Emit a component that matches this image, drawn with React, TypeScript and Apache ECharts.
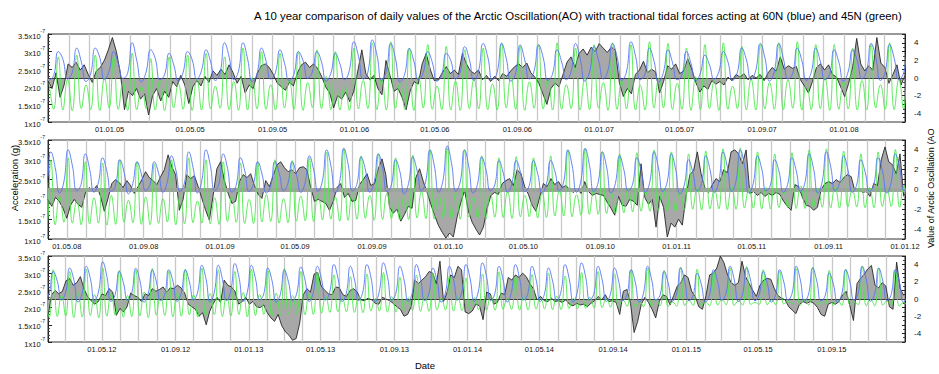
import React, { useEffect, useRef } from 'react';
import * as echarts from 'echarts';

const DAY_MS = 86400000;
const FONT = "'Liberation Sans', Arial, Helvetica, sans-serif";

const TITLE = 'A 10 year comparison of daily values of the Arctic Oscillation(AO) with tractional tidal forces acting at 60N (blue) and 45N (green)';
const LEFT_NAME = 'Acceleration (g)';
const RIGHT_NAME = 'Value of Arctic Oscillation (AO';
const X_NAME = 'Date';

// three panels (UTC dates)
const PANEL_START = ['2004-10-01', '2008-04-01', '2012-02-01'];
const PANEL_END = ['2008-04-01', '2012-01-01', '2016-01-01'];
const PANEL_TICKS = [
  ['2005-01-01', '2005-05-01', '2005-09-01', '2006-01-01', '2006-05-01', '2006-09-01', '2007-01-01', '2007-05-01', '2007-09-01', '2008-01-01'],
  ['2008-05-01', '2008-09-01', '2009-01-01', '2009-05-01', '2009-09-01', '2010-01-01', '2010-05-01', '2010-09-01', '2011-01-01', '2011-05-01', '2011-09-01', '2012-01-01'],
  ['2012-05-01', '2012-09-01', '2013-01-01', '2013-05-01', '2013-09-01', '2014-01-01', '2014-05-01', '2014-09-01', '2015-01-01', '2015-05-01', '2015-09-01'],
];

// Arctic Oscillation index, one value every 6 days from each panel start
const AO_STEP_DAYS = 6;
const AO_P1 = [
  -0.3, -1.2, 0.6, -2.2, -0.8, 1.6, 1.2, 1.8, 0.9, 1.5,
  0.4, -0.5, 0.8, 1.2, 2.0, 3.2, 4.6, 3.0, 0.5, -3.6,
  -1.5, -2.0, -1.2, -2.4, -1.8, -4.2, -2.0, -1.2, -2.6, -1.5,
  -2.2, -0.4, -1.0, 0.3, -0.8, -2.9, -1.0, -0.3, -0.9, 0.2,
  -0.5, 0.8, 0.3, 1.0, 0.4, 1.5, 0.6, -0.6, 0.2, -1.7,
  -0.8, -1.2, 0.5, 1.4, 1.6, 1.2, 0.4, -0.6, -1.0, -1.4,
  -0.5, -0.9, 0.6, 1.5, 1.8, 1.2, 1.6, 1.1, 0.2, -1.0,
  -1.7, -3.4, -2.0, -2.4, -1.6, -2.7, -1.5, 0.8, 3.2, 0.5,
  -0.2, 0.3, -1.2, -1.9, 2.0, 0.3, -1.5, -1.2, -2.2, -3.6,
  -1.5, -0.4, -0.7, 1.6, 2.8, 1.0, -0.3, -0.2, 0.6, 1.3,
  0.5, 0.9, 0.4, 2.8, 1.6, 0.8, 0.5, 0.9, -0.2, 0.3,
  -0.4, 0.2, -0.3, 0.5, 0.2, 0.8, 1.3, 1.6, 1.2, 1.7,
  0.6, 0.1, -0.6, -1.8, -3.0, -1.2, -0.6, -1.0, 0.4, 1.8,
  2.4, 1.2, 2.8, 3.3, 2.6, 3.5, 3.0, 3.9, 3.4, 2.9,
  3.5, 3.2, -0.5, -2.1, -1.2, -1.8, 0.4, 0.9, 1.9, 0.6,
  1.0, 0.7, -1.7, -0.4, 1.4, 1.0, 1.6, 0.5, 0.8, 2.2,
  1.0, -0.5, -1.6, -0.9, -1.3, -0.3, -0.7, -0.4, -0.8, 0.1,
  -0.3, 0.4, 0.1, 0.5, -0.2, 0.3, 0.0, 0.4, -0.3, 0.6,
  1.2, 0.8, 2.4, 1.0, 1.4, 1.1, 1.3, -0.2, -0.9, -1.7,
  -0.4, 1.2, 1.6, 0.9, 1.5, 0.4, 0.1, -1.0, -2.1, -0.6,
  1.3, 4.5, 1.6, 0.8, 1.4, 0.9, 4.6, 1.7, 1.2, -0.6,
  0.4, 1.5, -0.8, 0.3,
];
const AO_P2 = [
  -1.0, -1.7, -0.8, -1.2, -1.9, -2.9, -1.6, -1.0, -1.5, -1.8,
  -0.3, 0.2, -0.1, 0.4, -0.7, -2.2, -0.9, 0.6, 1.0, 0.7,
  0.2, 0.9, 0.4, -0.4, 0.3, 1.0, 1.8, 1.2, 0.9, 0.5,
  1.3, 2.0, 3.5, 2.3, 1.5, -2.1, -1.0, 1.5, 1.1, 1.4,
  0.3, -0.9, -2.1, -3.1, -0.6, 2.1, 2.8, 0.9, -0.4, -1.4,
  -1.2, 0.8, 1.5, 1.2, 1.6, 0.4, -0.5, -0.9, 0.9, 0.3,
  1.4, 2.5, 2.8, 2.2, 1.8, 2.0, 1.6, 2.2, 2.3, 2.0,
  0.2, -1.2, -1.0, -1.2, -1.4, -2.1, -1.2, 0.2, 0.6, -0.8,
  -0.4, -1.2, -1.1, 0.5, 1.0, 1.6, 0.4, 0.6, 2.1, 3.1,
  1.5, -1.8, -2.4, -2.0, -3.2, -2.5, -1.7, -1.9, 1.2, 2.1,
  0.8, -0.3, -1.5, -2.6, -3.6, -4.3, -4.9, -4.4, -4.8, -2.8,
  -1.3, -0.1, -2.2, -3.3, -4.0, -4.6, -3.8, -1.9, -0.6, -0.3,
  -0.5, 0.6, 0.9, 1.1, 0.4, 2.0, 1.6, 0.3, -0.5, -1.6,
  -2.2, -0.8, 0.6, 0.3, 1.1, 0.5, 0.8, 0.2, 0.4, 0.0,
  -0.3, 0.1, -0.4, 0.8, -0.2, -0.6, -0.4, -0.5, -0.6, -1.3,
  -1.9, -2.6, -0.7, -1.6, -1.7, -1.0, -1.2, -1.6, 2.6, -0.8,
  -1.5, -1.0, -3.8, -0.7, -1.8, -4.8, -3.4, -3.8, -3.0, -3.6,
  -0.7, 1.5, 1.9, 3.8, 1.6, 0.2, -0.3, 0.5, 1.1, 0.8,
  2.0, 1.7, 3.8, 4.0, 3.6, 2.6, 4.0, -0.4, -0.2, -0.6,
  -0.3, -0.7, -0.4, -0.6, -0.3, -0.5, -1.2, -1.7, -2.1, 0.5,
  0.3, -0.8, -1.6, -1.7, -2.1, -1.8, 0.0, 0.6, 0.8, 0.6,
  1.0, 0.7, 1.2, 1.5, 1.3, -0.2, 0.1, -0.3, -0.2, -0.7,
  0.6, 0.4, 3.0, 4.3, 2.8, 2.5, 1.6, 3.6, -0.7,
];
const AO_P3 = [
  -2.0, 0.5, 1.0, 0.6, 0.9, 2.1, 2.4, 1.6, 1.9, 2.6,
  1.2, 0.3, -0.2, -0.6, -0.3, 0.6, 0.4, 1.2, 0.8, -1.9,
  -1.1, -1.5, -0.9, 0.7, 0.4, 0.2, -0.3, 0.6, 0.4, 1.2,
  0.9, 1.1, 1.4, 0.8, 1.3, 1.2, 1.6, 1.3, 0.7, -0.6,
  -0.9, -1.2, -2.0, -1.6, -3.0, -1.4, -0.5, 0.2, -0.4, 2.2,
  1.6, 1.4, 0.9, -0.6, -0.3, 0.2, -0.6, -0.3, -0.9, -1.0,
  -0.7, -1.6, -2.2, -2.6, -1.8, -3.1, -3.8, -4.2, -4.8, -4.6,
  -2.8, 0.5, 1.2, 0.8, 2.9, 3.1, 1.5, 1.0, 0.6, 0.5,
  1.4, 1.3, 0.5, 0.3, 1.0, 1.2, 0.8, -0.1, -0.2, 0.1,
  -0.1, -0.5, -0.6, 0.2, 0.0, -0.2, -0.5, -0.9, -1.2, -2.0,
  -1.8, -0.9, 2.2, 1.8, 2.2, 2.6, 3.2, 3.0, 1.8, 4.4,
  -0.3, 0.8, 2.8, 2.5, 3.8, 3.4, -1.5, -1.7, -1.4, -0.6,
  -0.8, -2.4, 0.8, 0.6, -0.6, -0.4, 0.7, 0.5, 2.5, 2.2,
  2.8, 2.5, 3.0, 2.6, 1.8, 1.2, -0.1, 0.3, -0.2, -0.3,
  0.1, -0.3, -0.2, -0.4, -0.1, -0.6, -0.8, -0.5, -0.7, -0.6,
  -0.9, -0.5, -0.2, 0.3, -0.1, 0.5, -0.3, -0.2, -0.4, -1.8,
  0.9, 1.1, -0.5, -3.9, -2.6, -0.6, 0.2, -0.4, -1.2, -2.2,
  -0.3, 0.5, 0.3, -0.7, 0.4, 1.5, 1.9, 2.8, 2.5, 0.9,
  0.3, -0.9, -1.2, 0.4, 2.8, 3.0, 3.6, 5.0, 4.2, 2.8,
  1.9, 1.6, 1.9, 4.4, 2.6, 1.8, 1.0, 0.3, 1.6, 2.2,
  2.4, 2.3, 1.2, 0.4, 0.1, -0.1, -0.9, -1.3, -1.7, -0.6,
  -0.3, -0.5, -0.3, -0.5, -1.0, -1.8, -2.0, -0.6, -0.4, -0.6,
  -0.3, 0.5, 0.9, -0.8, -2.5, 1.8, 2.4, 2.9, 3.5, 3.9,
  1.6, 1.3, 1.9, 1.5, -0.9, -1.2, 4.3, 1.2, 0.4,
];

// tidal acceleration (x1e-7 g), four readings per lunar cycle
const TIDE_STEP_DAYS = 6.8875;
const TIDE_OFFSET_DAYS = [1.6, -9.1, -5.0];
const TIDE60_P1 = [
  2.18,2.32,3.00,2.78, 2.22,2.40,3.10,2.70, 2.15,2.36,3.10,2.82, 2.20,2.45,3.00,2.66, 2.24,2.38,3.25,2.74,
  2.14,2.42,3.05,2.80, 2.20,2.34,2.95,2.62, 2.16,2.40,3.00,2.76, 2.22,2.46,3.05,2.70, 2.18,2.38,3.25,2.84,
  2.20,2.44,3.25,2.78, 2.15,2.36,3.10,2.72, 2.22,2.40,3.05,2.66, 2.18,2.35,3.00,2.74, 2.24,2.42,3.00,2.70,
  2.16,2.38,2.95,2.64, 2.20,2.46,3.28,2.86, 2.22,2.40,3.33,2.90, 2.18,2.44,3.23,2.80, 2.14,2.36,3.09,2.72,
  2.20,2.40,3.00,2.68, 2.16,2.34,2.95,2.74, 2.22,2.42,3.14,2.78, 2.18,2.46,3.23,2.84, 2.20,2.40,3.23,2.80,
  2.16,2.38,3.19,2.76, 2.22,2.44,3.19,2.82, 2.18,2.36,3.05,2.70, 2.20,2.42,3.23,2.80, 2.16,2.40,3.14,2.74,
  2.22,2.46,3.23,2.84, 2.18,2.42,3.28,2.86, 2.20,2.36,3.10,2.72, 2.14,2.40,3.05,2.68, 2.20,2.34,3.00,2.66,
  2.16,2.38,2.90,2.62, 2.22,2.42,3.00,2.70, 2.18,2.40,3.10,2.76, 2.20,2.46,3.23,2.82, 2.16,2.42,3.23,2.80,
  2.22,2.38,3.10,2.74, 2.18,2.40,3.10,2.72, 2.20,2.36,3.05,2.70, 2.16,2.42,3.05,2.74, 2.22,2.46,3.23,2.84,
  2.18,2.40,3.20,2.80, 2.20,2.38,3.00,2.72,
];
const TIDE45_P1 = [
  2.10,1.36,2.85,1.34, 2.20,1.32,2.90,1.38, 2.05,1.35,2.90,1.33, 2.25,1.40,2.85,1.36, 2.12,1.33,2.95,1.35,
  2.00,1.38,2.80,1.34, 2.18,1.32,2.85,1.40, 2.08,1.36,2.90,1.33, 2.22,1.34,2.95,1.37, 2.02,1.39,2.85,1.35,
  2.15,1.33,3.10,1.34, 2.26,1.37,3.00,1.36, 2.06,1.34,2.95,1.40, 2.20,1.36,3.00,1.33, 2.12,1.41,3.05,1.38,
  2.30,1.35,3.00,1.34, 2.04,1.33,3.10,1.37, 2.18,1.38,3.25,1.35, 2.24,1.34,3.28,1.39, 2.10,1.36,3.10,1.33,
  2.28,1.40,3.20,1.36, 2.02,1.35,3.15,1.34, 2.16,1.33,3.05,1.38, 2.22,1.37,3.10,1.35, 2.08,1.34,3.25,1.40,
  2.30,1.36,3.15,1.33, 2.14,1.39,3.20,1.37, 2.20,1.34,3.25,1.36, 2.06,1.38,3.10,1.34, 2.26,1.35,3.20,1.39,
  2.12,1.33,3.25,1.36, 2.18,1.37,3.20,1.34, 2.04,1.34,3.28,1.40, 2.24,1.40,3.23,1.35, 2.10,1.36,3.10,1.33,
  2.28,1.35,3.20,1.38, 2.16,1.33,3.25,1.36, 2.02,1.38,3.15,1.34, 2.22,1.34,3.20,1.37, 2.12,1.36,3.25,1.35,
  2.20,1.39,3.28,1.34, 2.08,1.35,3.20,1.38, 2.26,1.33,3.20,1.36, 2.14,1.37,3.10,1.34, 2.18,1.34,3.20,1.40,
  2.06,1.36,3.25,1.35, 2.22,1.38,3.10,1.36,
];
const TIDE60_P2 = [
  2.20,2.40,3.20,2.80, 2.16,2.44,3.25,2.84, 2.22,2.38,3.15,2.76, 2.18,2.42,3.05,2.70, 2.20,2.36,3.00,2.68,
  2.14,2.40,2.95,2.64, 2.22,2.38,2.95,2.66, 2.18,2.44,3.10,2.74, 2.20,2.42,3.20,2.80, 2.16,2.46,3.25,2.86,
  2.22,2.40,3.15,2.78, 2.18,2.36,3.05,2.72, 2.20,2.38,2.95,2.64, 2.16,2.34,2.95,2.66, 2.22,2.40,2.95,2.62,
  2.18,2.42,3.10,2.74, 2.20,2.46,3.25,2.84, 2.16,2.44,3.29,2.88, 2.22,2.38,3.07,2.74, 2.18,2.42,3.15,2.78,
  2.20,2.36,3.00,2.70, 2.14,2.40,3.07,2.72, 2.22,2.46,3.25,2.84, 2.18,2.48,3.35,2.90, 2.20,2.44,3.25,2.82,
  2.16,2.38,3.07,2.74, 2.22,2.36,2.98,2.66, 2.18,2.40,2.98,2.68, 2.20,2.34,2.98,2.64, 2.16,2.38,2.98,2.70,
  2.22,2.44,3.25,2.84, 2.18,2.46,3.29,2.86, 2.20,2.42,3.20,2.80, 2.16,2.40,3.10,2.74, 2.22,2.38,3.05,2.72,
  2.18,2.44,3.20,2.80, 2.20,2.42,3.15,2.76, 2.14,2.36,3.00,2.68, 2.22,2.40,3.10,2.74, 2.18,2.44,3.20,2.82,
  2.20,2.46,3.25,2.84, 2.16,2.40,3.10,2.76, 2.22,2.36,3.00,2.70, 2.18,2.38,3.05,2.72, 2.20,2.42,3.15,2.78,
  2.16,2.44,3.20,2.82, 2.22,2.40,3.10,2.74, 2.18,2.36,3.00,2.68, 2.20,2.38,3.05,2.72, 2.16,2.42,3.15,2.78,
  2.22,2.44,3.20,2.80,
];
const TIDE45_P2 = [
  2.00,1.38,3.00,1.36, 2.08,1.42,3.05,1.40, 1.96,1.36,2.95,1.38, 2.04,1.40,2.92,1.35, 2.10,1.37,3.00,1.42,
  1.98,1.41,2.95,1.37, 2.06,1.36,2.90,1.39, 2.02,1.43,3.00,1.36, 2.10,1.38,3.05,1.41, 1.96,1.40,3.00,1.38,
  2.04,1.37,2.95,1.44, 2.08,1.42,2.92,1.39, 2.00,1.39,2.95,1.43, 2.12,1.44,3.00,1.40, 2.02,1.41,2.98,1.45,
  2.08,1.46,3.05,1.44, 2.14,1.48,3.20,1.50, 2.06,1.45,3.28,1.47, 2.18,1.50,3.10,1.52, 2.10,1.47,3.15,1.49,
  2.16,1.52,3.05,1.48, 2.08,1.49,3.12,1.53, 2.20,1.51,3.25,1.50, 2.12,1.54,3.30,1.52, 2.18,1.50,3.25,1.55,
  2.06,1.53,3.10,1.51, 2.14,1.55,3.05,1.54, 2.20,1.52,3.08,1.56, 2.10,1.56,3.05,1.53, 2.16,1.54,3.10,1.58,
  2.22,1.58,3.25,1.56, 2.12,1.60,3.28,1.62, 2.24,1.62,3.20,1.64, 2.18,1.65,3.15,1.66, 2.26,1.68,3.18,1.70,
  2.22,1.70,3.25,1.72, 2.28,1.72,3.20,1.70, 2.20,1.74,3.15,1.75, 2.30,1.73,3.22,1.76, 2.24,1.76,3.28,1.74,
  2.32,1.75,3.30,1.78, 2.26,1.78,3.20,1.76, 2.30,1.76,3.15,1.79, 2.22,1.79,3.18,1.77, 2.34,1.77,3.25,1.80,
  2.28,1.80,3.28,1.78, 2.32,1.78,3.22,1.81, 2.24,1.81,3.15,1.79, 2.30,1.79,3.20,1.82, 2.26,1.82,3.26,1.80,
  2.34,1.80,3.30,1.83,
];
const TIDE60_P3 = [
  2.18,2.40,3.05,2.76, 2.22,2.44,3.15,2.80, 2.16,2.42,3.20,2.84, 2.20,2.48,3.33,2.90, 2.18,2.38,3.05,2.72,
  2.22,2.42,3.14,2.78, 2.16,2.40,3.09,2.74, 2.20,2.38,3.10,2.76, 2.18,2.42,3.09,2.74, 2.22,2.46,3.23,2.84,
  2.16,2.44,3.23,2.82, 2.20,2.48,3.28,2.88, 2.18,2.44,3.23,2.84, 2.22,2.40,3.15,2.78, 2.16,2.38,3.09,2.74,
  2.20,2.42,3.18,2.80, 2.18,2.44,3.20,2.82, 2.22,2.46,3.25,2.84, 2.18,2.42,3.20,2.80, 2.20,2.46,3.25,2.86,
  2.16,2.48,3.30,2.88, 2.22,2.42,3.20,2.80, 2.18,2.44,3.25,2.84, 2.20,2.40,3.15,2.76, 2.16,2.42,3.20,2.80,
  2.22,2.46,3.25,2.84, 2.18,2.48,3.30,2.88, 2.20,2.42,3.20,2.80, 2.16,2.44,3.25,2.84, 2.22,2.42,3.20,2.80,
  2.18,2.40,3.15,2.76, 2.20,2.46,3.25,2.84, 2.16,2.48,3.30,2.88, 2.22,2.42,3.20,2.80, 2.18,2.40,3.15,2.76,
  2.20,2.38,3.10,2.74, 2.16,2.42,3.20,2.80, 2.22,2.36,3.05,2.70, 2.18,2.40,3.15,2.76, 2.20,2.34,3.00,2.68,
  2.16,2.38,3.10,2.74, 2.22,2.42,3.20,2.80, 2.18,2.40,3.15,2.76, 2.20,2.36,3.05,2.70, 2.16,2.38,3.10,2.74,
  2.22,2.42,3.20,2.80, 2.18,2.40,3.15,2.76, 2.20,2.34,3.00,2.68, 2.16,2.38,3.10,2.74, 2.22,2.42,3.20,2.80,
  2.18,2.40,3.15,2.76, 2.20,2.38,3.10,2.74, 2.16,2.36,3.05,2.70,
];
const TIDE45_P3 = [
  2.40,1.72,3.10,1.74, 2.36,1.76,3.05,1.71, 2.44,1.73,3.12,1.77, 2.38,1.70,3.15,1.75, 2.42,1.78,3.08,1.72,
  2.35,1.74,3.10,1.76, 2.45,1.71,3.14,1.78, 2.39,1.77,3.06,1.73, 2.43,1.75,3.12,1.79, 2.37,1.72,3.15,1.76,
  2.41,1.79,3.10,1.74, 2.36,1.76,3.05,1.80, 2.44,1.73,3.12,1.77, 2.38,1.80,3.08,1.75, 2.42,1.77,3.14,1.81,
  2.35,1.82,3.05,1.79, 2.40,1.80,3.02,1.84, 2.32,1.86,2.95,1.88, 2.28,1.88,2.90,1.86, 2.34,1.85,2.98,1.90,
  2.26,1.90,3.02,1.87, 2.32,1.87,2.88,1.91, 2.28,1.92,2.95,1.89, 2.35,1.89,3.00,1.93, 2.27,1.93,2.92,1.90,
  2.33,1.91,2.86,1.94, 2.29,1.94,2.98,1.92, 2.34,1.92,3.04,1.95, 2.26,1.95,2.90,1.93, 2.31,1.93,2.96,1.96,
  2.28,1.96,3.00,1.94, 2.33,1.94,2.92,1.97, 2.27,1.97,3.02,1.98, 2.30,1.99,3.05,2.00, 2.25,2.01,2.98,2.02,
  2.22,2.03,3.10,2.01, 2.18,2.02,3.15,2.04, 2.24,2.05,3.08,2.03, 2.16,2.04,3.18,2.06, 2.21,2.06,3.12,2.05,
  2.17,2.05,3.05,2.07, 2.23,2.08,3.15,2.06, 2.19,2.07,3.20,2.09, 2.15,2.09,3.10,2.08, 2.22,2.08,3.06,2.10,
  2.18,2.10,3.14,2.07, 2.24,2.07,3.18,2.09, 2.16,2.09,3.08,2.06, 2.21,2.06,3.12,2.08, 2.17,2.08,3.20,2.05,
  2.23,2.05,3.15,2.07, 2.19,2.07,3.10,2.04, 2.15,2.04,3.06,2.06,
];

const AO_SERIES = [AO_P1, AO_P2, AO_P3];
const TIDE60_SERIES = [TIDE60_P1, TIDE60_P2, TIDE60_P3];
const TIDE45_SERIES = [TIDE45_P1, TIDE45_P2, TIDE45_P3];

const ACC_MIN = 1;
const ACC_MAX = 3.5;
const ACC_STEP = 0.5;
const AO_MIN = -5;
const AO_MAX = 5;

const GRID_BOXES = [
  { top: 34, height: 88 },
  { top: 140, height: 99 },
  { top: 256, height: 86 },
];

const pad2 = (n: number) => (n < 10 ? '0' + n : String(n));
const fmtDate = (v: number) => {
  const d = new Date(v);
  return pad2(d.getUTCDate()) + '.' + pad2(d.getUTCMonth() + 1) + '.' + String(d.getUTCFullYear()).slice(2);
};
const monthStarts = (a: number, b: number) => {
  const out: number[] = [];
  const d = new Date(a);
  let y = d.getUTCFullYear();
  let m = d.getUTCMonth() + 1;
  for (;;) {
    if (m > 11) { m = 0; y++; }
    const t = Date.UTC(y, m, 1);
    if (t >= b) break;
    out.push(t);
    m++;
  }
  return out;
};

function buildOption() {
  const grids: any[] = [];
  const xAxes: any[] = [];
  const yAxes: any[] = [];
  const series: any[] = [];
  for (let p = 0; p < 3; p++) {
    const start = Date.parse(PANEL_START[p]);
    const end = Date.parse(PANEL_END[p]);
    const ticks = PANEL_TICKS[p].map((s) => Date.parse(s));
    grids.push({
      left: 48, right: 34, top: GRID_BOXES[p].top, height: GRID_BOXES[p].height,
      show: true, borderColor: '#333', borderWidth: 1, backgroundColor: '#fff', containLabel: false,
    });
    xAxes.push({
      type: 'value', gridIndex: p, min: start, max: end,
      axisLine: { show: false },
      axisTick: { show: true, inside: true, length: 4, customValues: ticks, lineStyle: { color: '#222', width: 1 } },
      axisLabel: { customValues: ticks, formatter: (v: number) => fmtDate(v), fontSize: 7.5, color: '#111', margin: 3, fontFamily: FONT, hideOverlap: false },
      splitLine: { show: false },
    });
    yAxes.push({
      type: 'value', gridIndex: p, min: ACC_MIN, max: ACC_MAX, interval: ACC_STEP, position: 'left',
      axisLine: { show: true, lineStyle: { color: '#222', width: 1 } },
      axisTick: { show: true, inside: true, length: 4, lineStyle: { color: '#222' } },
      minorTick: { show: true, splitNumber: 5, length: 2, lineStyle: { color: '#444' } },
      axisLabel: {
        margin: 3,
        formatter: (v: number) => `{a|${v}x10}{s|-7}`,
        rich: {
          a: { fontSize: 7.5, lineHeight: 12, verticalAlign: 'bottom', color: '#111', fontFamily: FONT },
          s: { fontSize: 5, lineHeight: 6, verticalAlign: 'top', color: '#111', fontFamily: FONT },
        },
      },
      splitLine: { show: false },
    });
    yAxes.push({
      type: 'value', gridIndex: p, min: AO_MIN, max: AO_MAX, interval: 1, position: 'right',
      axisLine: { show: true, lineStyle: { color: '#222', width: 1 } },
      axisTick: { show: true, inside: true, length: 3, lineStyle: { color: '#222' } },
      minorTick: { show: true, splitNumber: 2, length: 2, lineStyle: { color: '#444' } },
      axisLabel: {
        margin: 9, fontSize: 8, color: '#111', fontFamily: FONT,
        formatter: (v: number) => (v % 2 === 0 && Math.abs(v) <= 4 ? String(v) : ''),
      },
      splitLine: { show: false },
    });
    const accAxis = 2 * p;
    const aoAxis = 2 * p + 1;
    // monthly guide lines
    series.push({
      type: 'line', xAxisIndex: p, yAxisIndex: accAxis, data: [[start, (ACC_MIN + ACC_MAX) / 2]],
      symbol: 'none', showSymbol: false, lineStyle: { opacity: 0 }, silent: true, z: 1,
      markLine: {
        silent: true, symbol: ['none', 'none'], z: 1, label: { show: false },
        lineStyle: { color: '#c8c8c8', width: 1.3, type: 'solid' },
        emphasis: { disabled: true },
        data: monthStarts(start, end).map((t) => ({ xAxis: t })),
      },
    });
    // AO
    series.push({
      type: 'line', xAxisIndex: p, yAxisIndex: aoAxis,
      data: AO_SERIES[p].map((v, i) => [start + i * AO_STEP_DAYS * DAY_MS, v]),
      symbol: 'none', showSymbol: false, z: 2,
      lineStyle: { color: '#262626', width: 0.9 },
      areaStyle: { color: '#a8a8a8', opacity: 1, origin: 0 },
      markLine: {
        silent: true, symbol: ['none', 'none'], z: 3, label: { show: false },
        lineStyle: p === 1 ? { color: '#a0a0a0', width: 4, type: 'solid' } : { color: '#3a3a3a', width: 1.2, type: 'solid' },
        emphasis: { disabled: true },
        data: [{ yAxis: 0 }],
      },
    });
    const off = TIDE_OFFSET_DAYS[p];
    series.push({
      type: 'line', xAxisIndex: p, yAxisIndex: accAxis,
      data: TIDE45_SERIES[p].map((v, i) => [start + (off + i * TIDE_STEP_DAYS) * DAY_MS, v]),
      symbol: 'none', showSymbol: false, smooth: 0.5, z: 4,
      lineStyle: { color: '#4ee84e', width: 0.9 },
    });
    series.push({
      type: 'line', xAxisIndex: p, yAxisIndex: accAxis,
      data: TIDE60_SERIES[p].map((v, i) => [start + (off + i * TIDE_STEP_DAYS) * DAY_MS, v]),
      symbol: 'none', showSymbol: false, smooth: 0.5, z: 4,
      lineStyle: { color: '#5576f4', width: 0.9 },
    });
  }
  return {
    animation: false,
    backgroundColor: '#fff',
    grid: grids,
    xAxis: xAxes,
    yAxis: yAxes,
    series,
    graphic: [
      { type: 'text', left: 254, top: 10, style: { text: TITLE, fontSize: 11.4, fill: '#000', fontFamily: FONT } },
      { type: 'text', x: 14, y: 178, rotation: Math.PI / 2, style: { text: LEFT_NAME, fontSize: 9.5, fill: '#000', fontFamily: FONT, align: 'center', verticalAlign: 'middle' } },
      { type: 'text', x: 931, y: 248, rotation: Math.PI / 2, style: { text: RIGHT_NAME, fontSize: 9, fill: '#000', fontFamily: FONT, align: 'left', verticalAlign: 'middle' } },
      { type: 'text', x: 425, y: 365, style: { text: X_NAME, fontSize: 9.5, fill: '#000', fontFamily: FONT, align: 'center', verticalAlign: 'middle' } },
    ],
  };
}

export default function App() {
  const ref = useRef<HTMLDivElement>(null);
  useEffect(() => {
    if (!ref.current) return;
    const chart = echarts.init(ref.current, undefined, { renderer: 'svg' });
    chart.setOption(buildOption() as any);
    return () => chart.dispose();
  }, []);
  return <div ref={ref} style={{ position: 'fixed', left: 0, top: 0, width: 939, height: 374, background: '#fff' }} />;
}
